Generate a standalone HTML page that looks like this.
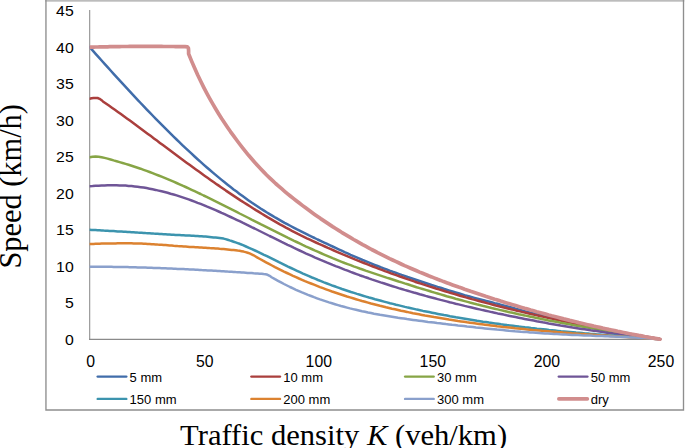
<!DOCTYPE html>
<html><head><meta charset="utf-8"><title>Speed vs traffic density</title>
<style>
html,body{margin:0;padding:0;background:#fff;}
body{width:685px;height:448px;overflow:hidden;}
svg{display:block;}
.t{font-family:"Liberation Sans",sans-serif;font-size:16.3px;fill:#000;}
.l{font-family:"Liberation Sans",sans-serif;font-size:13px;fill:#000;}
.a{font-family:"Liberation Serif",serif;fill:#000;}
</style></head><body>
<svg width="685" height="448" viewBox="0 0 685 448">
<rect x="0" y="0" width="685" height="448" fill="#fff"/>
<rect x="45.2" y="0" width="639.1" height="1.7" fill="#bcbcbc"/>
<path d="M45.95,0 V409.95 H683.5 V0" fill="none" stroke="#8e8e8e" stroke-width="1.35"/>
<line x1="89.7" y1="10" x2="89.7" y2="339.9" stroke="#8c8c8c" stroke-width="1.05"/>
<line x1="89" y1="339.35" x2="660" y2="339.35" stroke="#8a8a8a" stroke-width="1.1"/>
<clipPath id="cp"><rect x="89.6" y="0" width="575" height="345"/></clipPath>
<g clip-path="url(#cp)">
<polyline points="89.6,47.0 92.6,50.4 95.6,53.8 98.6,57.1 101.6,60.5 104.6,63.8 107.6,67.2 110.6,70.5 113.6,73.8 116.6,77.1 119.6,80.4 122.6,83.7 125.6,86.9 128.6,90.2 131.6,93.4 134.6,96.6 137.6,99.8 140.6,103.0 143.6,106.1 146.6,109.3 149.6,112.4 152.6,115.5 155.6,118.6 158.6,121.6 161.6,124.7 164.6,127.7 167.6,130.7 170.6,133.7 173.6,136.6 176.6,139.5 179.6,142.4 182.6,145.3 185.6,148.1 188.6,150.9 191.6,153.7 194.6,156.5 197.6,159.2 200.6,161.9 203.6,164.6 206.6,167.2 209.6,169.8 212.6,172.4 215.6,174.9 218.6,177.4 221.6,179.9 224.6,182.3 227.6,184.7 230.6,187.0 233.6,189.4 236.6,191.6 239.6,193.9 242.6,196.1 245.6,198.3 248.6,200.4 251.6,202.5 254.6,204.5 257.6,206.5 260.6,208.5 263.6,210.4 266.6,212.3 269.6,214.1 272.6,215.9 275.6,217.7 278.6,219.4 281.6,221.1 284.6,222.8 287.6,224.4 290.6,226.0 293.6,227.6 296.6,229.2 299.6,230.7 302.6,232.2 305.6,233.7 308.6,235.2 311.6,236.6 314.6,238.0 317.6,239.5 320.6,240.9 323.6,242.3 326.6,243.7 329.6,245.1 332.6,246.5 335.6,247.9 338.6,249.3 341.6,250.7 344.6,252.1 347.6,253.4 350.6,254.8 353.6,256.1 356.6,257.4 359.6,258.7 362.6,260.0 365.6,261.2 368.6,262.4 371.6,263.6 374.6,264.8 377.6,266.0 380.6,267.2 383.6,268.3 386.6,269.4 389.6,270.6 392.6,271.7 395.6,272.7 398.6,273.8 401.6,274.9 404.6,275.9 407.6,277.0 410.6,278.0 413.6,279.0 416.6,280.0 419.6,281.0 422.6,282.0 425.6,283.0 428.6,284.0 431.6,285.0 434.6,285.9 437.6,286.9 440.6,287.8 443.6,288.8 446.6,289.7 449.6,290.6 452.6,291.5 455.6,292.4 458.6,293.3 461.6,294.2 464.6,295.1 467.6,295.9 470.6,296.8 473.6,297.6 476.6,298.4 479.6,299.2 482.6,300.0 485.6,300.8 488.6,301.5 491.6,302.3 494.6,303.1 497.6,303.8 500.6,304.6 503.6,305.4 506.6,306.2 509.6,307.0 512.6,307.8 515.6,308.6 518.6,309.4 521.6,310.3 524.6,311.1 527.6,311.9 530.6,312.7 533.6,313.4 536.6,314.2 539.6,315.0 542.6,315.7 545.6,316.5 548.6,317.2 551.6,317.9 554.6,318.6 557.6,319.3 560.6,320.0 563.6,320.7 566.6,321.4 569.6,322.1 572.6,322.8 575.6,323.4 578.6,324.1 581.6,324.7 584.6,325.3 587.6,326.0 590.6,326.6 593.6,327.2 596.6,327.8 599.6,328.4 602.6,329.0 605.6,329.6 608.6,330.1 611.6,330.7 614.6,331.3 617.6,331.8 620.6,332.4 623.6,332.9 626.6,333.5 629.6,334.0 632.6,334.5 635.6,335.1 638.6,335.6 641.6,336.1 644.6,336.6 647.6,337.1 650.6,337.6 653.6,338.1 656.6,338.6 659.6,339.1 660.0,339.2" stroke="#416DAA" stroke-width="2.5" fill="none" stroke-linecap="round" stroke-linejoin="round"/>
<polyline points="89.6,98.8 91.6,98.3 93.6,98.0 95.6,97.9 97.6,98.0 99.6,98.8 101.6,100.2 102.9,101.4 105.9,103.5 108.9,105.6 111.9,107.7 114.9,109.8 117.9,111.9 120.9,114.1 123.9,116.3 126.9,118.4 129.9,120.6 132.9,122.8 135.9,125.0 138.9,127.2 141.9,129.5 144.9,131.7 147.9,133.9 150.9,136.1 153.9,138.4 156.9,140.6 159.9,142.9 162.9,145.1 165.9,147.3 168.9,149.6 171.9,151.8 174.9,154.0 177.9,156.3 180.9,158.5 183.9,160.7 186.9,162.9 189.9,165.1 192.9,167.3 195.9,169.4 198.9,171.6 201.9,173.8 204.9,175.9 207.9,178.0 210.9,180.2 213.9,182.3 216.9,184.4 219.9,186.4 222.9,188.5 225.9,190.6 228.9,192.6 231.9,194.6 234.9,196.6 237.9,198.6 240.9,200.6 243.9,202.5 246.9,204.4 249.9,206.3 252.9,208.2 255.9,210.1 258.9,211.9 261.9,213.8 264.9,215.6 267.9,217.4 270.9,219.1 273.9,220.9 276.9,222.6 279.9,224.3 282.9,225.9 285.9,227.6 288.9,229.2 291.9,230.8 294.9,232.3 297.9,233.9 300.9,235.4 303.9,236.8 306.9,238.3 309.9,239.7 312.9,241.1 315.9,242.5 318.9,243.9 321.9,245.2 324.9,246.5 327.9,247.9 330.9,249.2 333.9,250.5 336.9,251.8 339.9,253.1 342.9,254.4 345.9,255.6 348.9,256.9 351.9,258.1 354.9,259.4 357.9,260.6 360.9,261.8 363.9,263.0 366.9,264.2 369.9,265.4 372.9,266.5 375.9,267.7 378.9,268.8 381.9,269.9 384.9,271.1 387.9,272.2 390.9,273.3 393.9,274.4 396.9,275.4 399.9,276.5 402.9,277.5 405.9,278.6 408.9,279.6 411.9,280.6 414.9,281.7 417.9,282.7 420.9,283.6 423.9,284.6 426.9,285.6 429.9,286.6 432.9,287.5 435.9,288.5 438.9,289.4 441.9,290.3 444.9,291.2 447.9,292.1 450.9,293.0 453.9,293.9 456.9,294.8 459.9,295.7 462.9,296.5 465.9,297.4 468.9,298.2 471.9,299.1 474.9,299.9 477.9,300.7 480.9,301.5 483.9,302.3 486.9,303.1 489.9,303.9 492.9,304.7 495.9,305.5 498.9,306.2 501.9,307.0 504.9,307.7 507.9,308.5 510.9,309.2 513.9,309.9 516.9,310.7 519.9,311.4 522.9,312.1 525.9,312.8 528.9,313.5 531.9,314.2 534.9,314.9 537.9,315.6 540.9,316.2 543.9,316.9 546.9,317.6 549.9,318.2 552.9,318.9 555.9,319.5 558.9,320.1 561.9,320.8 564.9,321.4 567.9,322.0 570.9,322.6 573.9,323.3 576.9,323.9 579.9,324.5 582.9,325.1 585.9,325.7 588.9,326.3 591.9,326.8 594.9,327.4 597.9,328.0 600.9,328.6 603.9,329.1 606.9,329.7 609.9,330.3 612.9,330.8 615.9,331.4 618.9,331.9 621.9,332.5 624.9,333.0 627.9,333.6 630.9,334.1 633.9,334.6 636.9,335.2 639.9,335.7 642.9,336.2 645.9,336.8 648.9,337.3 651.9,337.8 654.9,338.3 657.9,338.8 660.0,339.2" stroke="#AA3F3D" stroke-width="2.5" fill="none" stroke-linecap="round" stroke-linejoin="round"/>
<polyline points="89.6,157.3 92.6,156.8 95.6,156.6 98.6,156.8 101.6,157.2 104.6,157.9 107.6,158.6 110.6,159.5 113.6,160.4 116.6,161.2 119.6,162.1 122.6,163.0 125.6,163.9 128.6,164.8 131.6,165.7 134.6,166.7 137.6,167.7 140.6,168.7 143.6,169.8 146.6,170.9 149.6,172.0 152.6,173.1 155.6,174.3 158.6,175.5 161.6,176.7 164.6,177.9 167.6,179.1 170.6,180.4 173.6,181.7 176.6,183.0 179.6,184.3 182.6,185.7 185.6,187.0 188.6,188.4 191.6,189.8 194.6,191.2 197.6,192.6 200.6,194.0 203.6,195.5 206.6,196.9 209.6,198.4 212.6,199.9 215.6,201.4 218.6,202.9 221.6,204.4 224.6,205.9 227.6,207.4 230.6,208.9 233.6,210.4 236.6,211.9 239.6,213.5 242.6,215.0 245.6,216.5 248.6,218.0 251.6,219.6 254.6,221.1 257.6,222.6 260.6,224.2 263.6,225.7 266.6,227.2 269.6,228.7 272.6,230.2 275.6,231.7 278.6,233.2 281.6,234.7 284.6,236.2 287.6,237.7 290.6,239.1 293.6,240.6 296.6,242.0 299.6,243.4 302.6,244.9 305.6,246.3 308.6,247.6 311.6,249.0 314.6,250.4 317.6,251.7 320.6,253.0 323.6,254.3 326.6,255.6 329.6,256.9 332.6,258.2 335.6,259.4 338.6,260.6 341.6,261.8 344.6,263.0 347.6,264.1 350.6,265.2 353.6,266.4 356.6,267.4 359.6,268.5 362.6,269.5 365.6,270.6 368.6,271.6 371.6,272.6 374.6,273.6 377.6,274.6 380.6,275.6 383.6,276.6 386.6,277.6 389.6,278.5 392.6,279.5 395.6,280.5 398.6,281.5 401.6,282.4 404.6,283.4 407.6,284.3 410.6,285.3 413.6,286.2 416.6,287.2 419.6,288.1 422.6,289.0 425.6,289.9 428.6,290.8 431.6,291.8 434.6,292.6 437.6,293.5 440.6,294.4 443.6,295.3 446.6,296.2 449.6,297.0 452.6,297.8 455.6,298.7 458.6,299.5 461.6,300.3 464.6,301.1 467.6,301.9 470.6,302.7 473.6,303.5 476.6,304.3 479.6,305.0 482.6,305.8 485.6,306.5 488.6,307.2 491.6,308.0 494.6,308.7 497.6,309.4 500.6,310.1 503.6,310.8 506.6,311.5 509.6,312.2 512.6,312.8 515.6,313.5 518.6,314.2 521.6,314.8 524.6,315.4 527.6,316.1 530.6,316.7 533.6,317.3 536.6,318.0 539.6,318.6 542.6,319.2 545.6,319.8 548.6,320.4 551.6,320.9 554.6,321.5 557.6,322.1 560.6,322.7 563.6,323.2 566.6,323.8 569.6,324.3 572.6,324.9 575.6,325.4 578.6,326.0 581.6,326.5 584.6,327.0 587.6,327.6 590.6,328.1 593.6,328.6 596.6,329.1 599.6,329.6 602.6,330.1 605.6,330.6 608.6,331.1 611.6,331.6 614.6,332.1 617.6,332.6 620.6,333.1 623.6,333.6 626.6,334.0 629.6,334.5 632.6,335.0 635.6,335.5 638.6,335.9 641.6,336.4 644.6,336.9 647.6,337.3 650.6,337.8 653.6,338.2 656.6,338.7 659.6,339.1 660.0,339.2" stroke="#87A546" stroke-width="2.5" fill="none" stroke-linecap="round" stroke-linejoin="round"/>
<polyline points="89.6,186.3 92.6,186.1 95.6,185.8 98.6,185.7 101.6,185.5 104.6,185.4 107.6,185.3 110.6,185.3 113.6,185.3 116.6,185.3 119.6,185.4 122.6,185.5 125.6,185.6 128.6,185.9 131.6,186.1 134.6,186.4 137.6,186.8 140.6,187.2 143.6,187.6 146.6,188.1 149.6,188.7 152.6,189.3 155.6,189.9 158.6,190.6 161.6,191.3 164.6,192.0 167.6,192.8 170.6,193.7 173.6,194.5 176.6,195.4 179.6,196.4 182.6,197.4 185.6,198.4 188.6,199.4 191.6,200.5 194.6,201.6 197.6,202.8 200.6,203.9 203.6,205.1 206.6,206.4 209.6,207.6 212.6,208.9 215.6,210.2 218.6,211.5 221.6,212.9 224.6,214.2 227.6,215.6 230.6,217.0 233.6,218.4 236.6,219.8 239.6,221.2 242.6,222.7 245.6,224.1 248.6,225.6 251.6,227.1 254.6,228.5 257.6,230.0 260.6,231.5 263.6,233.0 266.6,234.5 269.6,236.0 272.6,237.4 275.6,238.9 278.6,240.4 281.6,241.9 284.6,243.3 287.6,244.8 290.6,246.2 293.6,247.7 296.6,249.1 299.6,250.5 302.6,251.9 305.6,253.3 308.6,254.6 311.6,255.9 314.6,257.3 317.6,258.6 320.6,259.9 323.6,261.1 326.6,262.4 329.6,263.6 332.6,264.9 335.6,266.1 338.6,267.2 341.6,268.4 344.6,269.6 347.6,270.7 350.6,271.9 353.6,273.0 356.6,274.1 359.6,275.2 362.6,276.2 365.6,277.3 368.6,278.3 371.6,279.4 374.6,280.4 377.6,281.4 380.6,282.4 383.6,283.3 386.6,284.3 389.6,285.3 392.6,286.2 395.6,287.1 398.6,288.1 401.6,289.0 404.6,289.9 407.6,290.7 410.6,291.6 413.6,292.5 416.6,293.3 419.6,294.2 422.6,295.0 425.6,295.9 428.6,296.7 431.6,297.5 434.6,298.3 437.6,299.1 440.6,299.9 443.6,300.6 446.6,301.4 449.6,302.2 452.6,302.9 455.6,303.7 458.6,304.4 461.6,305.1 464.6,305.9 467.6,306.6 470.6,307.3 473.6,308.0 476.6,308.7 479.6,309.4 482.6,310.1 485.6,310.7 488.6,311.4 491.6,312.1 494.6,312.7 497.6,313.4 500.6,314.0 503.6,314.6 506.6,315.3 509.6,315.9 512.6,316.5 515.6,317.1 518.6,317.7 521.6,318.3 524.6,318.9 527.6,319.5 530.6,320.1 533.6,320.6 536.6,321.2 539.6,321.7 542.6,322.3 545.6,322.8 548.6,323.4 551.6,323.9 554.6,324.4 557.6,324.9 560.6,325.5 563.6,326.0 566.6,326.5 569.6,327.0 572.6,327.5 575.6,327.9 578.6,328.4 581.6,328.9 584.6,329.3 587.6,329.8 590.6,330.3 593.6,330.7 596.6,331.1 599.6,331.6 602.6,332.0 605.6,332.4 608.6,332.9 611.6,333.3 614.6,333.7 617.6,334.1 620.6,334.5 623.6,334.9 626.6,335.3 629.6,335.6 632.6,336.0 635.6,336.4 638.6,336.7 641.6,337.1 644.6,337.5 647.6,337.8 650.6,338.2 653.6,338.5 656.6,338.8 659.6,339.2 660.0,339.2" stroke="#6F5597" stroke-width="2.5" fill="none" stroke-linecap="round" stroke-linejoin="round"/>
<polyline points="89.6,229.8 91.6,229.9 93.6,230.0 95.6,230.1 97.6,230.2 99.6,230.3 101.6,230.4 103.6,230.6 105.6,230.7 107.6,230.8 109.6,230.9 111.6,231.0 113.6,231.1 115.6,231.2 117.6,231.4 119.6,231.5 121.6,231.6 123.6,231.7 125.6,231.8 127.6,232.0 129.6,232.1 131.6,232.2 133.6,232.3 135.6,232.4 137.6,232.6 139.6,232.7 141.6,232.8 143.6,232.9 145.6,233.1 147.6,233.2 149.6,233.3 151.6,233.4 153.6,233.6 155.6,233.7 157.6,233.8 159.6,234.0 161.6,234.1 163.6,234.2 165.6,234.3 167.6,234.4 169.6,234.5 171.6,234.7 173.6,234.8 175.6,234.9 177.6,235.0 179.6,235.1 181.6,235.2 183.6,235.3 185.6,235.4 187.6,235.5 189.6,235.6 191.6,235.7 193.6,235.8 195.6,235.9 197.6,236.0 199.6,236.2 201.6,236.3 203.6,236.5 205.6,236.6 207.6,236.8 209.6,237.0 211.6,237.2 213.6,237.4 215.6,237.6 217.6,237.8 219.6,238.0 221.6,238.3 223.6,238.6 225.6,239.1 227.6,239.7 229.6,240.4 231.6,241.0 233.6,241.7 235.6,242.4 237.6,243.1 239.6,243.8 240.0,244.0 243.0,245.2 246.0,246.5 249.0,247.8 252.0,249.1 255.0,250.5 258.0,251.9 261.0,253.3 264.0,254.8 267.0,256.2 270.0,257.7 273.0,259.2 276.0,260.7 279.0,262.2 282.0,263.6 285.0,265.1 288.0,266.6 291.0,268.0 294.0,269.4 297.0,270.8 300.0,272.2 303.0,273.6 306.0,274.9 309.0,276.2 312.0,277.5 315.0,278.7 318.0,280.0 321.0,281.2 324.0,282.4 327.0,283.5 330.0,284.6 333.0,285.8 336.0,286.8 339.0,287.9 342.0,289.0 345.0,290.0 348.0,291.0 351.0,292.0 354.0,292.9 357.0,293.9 360.0,294.8 363.0,295.7 366.0,296.6 369.0,297.5 372.0,298.3 375.0,299.2 378.0,300.0 381.0,300.8 384.0,301.6 387.0,302.4 390.0,303.2 393.0,303.9 396.0,304.7 399.0,305.4 402.0,306.1 405.0,306.9 408.0,307.6 411.0,308.2 414.0,308.9 417.0,309.6 420.0,310.2 423.0,310.9 426.0,311.5 429.0,312.1 432.0,312.7 435.0,313.3 438.0,313.9 441.0,314.5 444.0,315.1 447.0,315.6 450.0,316.2 453.0,316.7 456.0,317.3 459.0,317.8 462.0,318.3 465.0,318.8 468.0,319.3 471.0,319.8 474.0,320.3 477.0,320.8 480.0,321.2 483.0,321.7 486.0,322.1 489.0,322.6 492.0,323.0 495.0,323.4 498.0,323.8 501.0,324.3 504.0,324.7 507.0,325.1 510.0,325.4 513.0,325.8 516.0,326.2 519.0,326.6 522.0,326.9 525.0,327.3 528.0,327.6 531.0,328.0 534.0,328.3 537.0,328.7 540.0,329.0 543.0,329.3 546.0,329.6 549.0,330.0 552.0,330.3 555.0,330.6 558.0,330.9 561.0,331.2 564.0,331.4 567.0,331.7 570.0,332.0 573.0,332.3 576.0,332.6 579.0,332.8 582.0,333.1 585.0,333.4 588.0,333.6 591.0,333.9 594.0,334.1 597.0,334.4 600.0,334.6 603.0,334.9 606.0,335.1 609.0,335.4 612.0,335.6 615.0,335.8 618.0,336.1 621.0,336.3 624.0,336.5 627.0,336.8 630.0,337.0 633.0,337.2 636.0,337.4 639.0,337.7 642.0,337.9 645.0,338.1 648.0,338.3 651.0,338.5 654.0,338.8 657.0,339.0 660.0,339.2" stroke="#3C94AE" stroke-width="2.5" fill="none" stroke-linecap="round" stroke-linejoin="round"/>
<polyline points="89.6,244.1 91.6,244.0 93.6,243.9 95.6,243.8 97.6,243.7 99.6,243.7 101.6,243.6 103.6,243.6 105.6,243.5 107.6,243.5 109.6,243.4 111.6,243.4 113.6,243.4 115.6,243.4 117.6,243.3 119.6,243.3 121.6,243.3 123.6,243.3 125.6,243.3 127.6,243.3 129.6,243.3 131.6,243.3 133.6,243.4 135.6,243.4 137.6,243.5 139.6,243.5 141.6,243.6 143.6,243.7 145.6,243.8 147.6,243.9 149.6,244.0 151.6,244.2 153.6,244.3 155.6,244.4 157.6,244.6 159.6,244.7 161.6,244.8 163.6,245.0 165.6,245.1 167.6,245.3 169.6,245.5 171.6,245.6 173.6,245.8 175.6,245.9 177.6,246.1 179.6,246.2 181.6,246.3 183.6,246.5 185.6,246.6 187.6,246.7 189.6,246.9 191.6,247.0 193.6,247.1 195.6,247.2 197.6,247.3 199.6,247.5 201.6,247.6 203.6,247.7 205.6,247.8 207.6,247.9 209.6,248.1 211.6,248.2 213.6,248.3 215.6,248.5 217.6,248.6 219.6,248.8 221.6,248.9 223.6,249.1 225.6,249.3 227.6,249.5 229.6,249.7 231.6,249.9 233.6,250.1 235.6,250.3 237.6,250.6 239.6,250.8 241.6,251.2 243.6,251.6 245.6,252.1 247.6,252.7 249.6,253.4 251.6,254.3 253.6,255.3 255.6,256.5 257.0,257.3 260.0,259.0 263.0,260.7 266.0,262.3 269.0,263.9 272.0,265.5 275.0,267.1 278.0,268.6 281.0,270.1 284.0,271.6 287.0,273.0 290.0,274.4 293.0,275.8 296.0,277.1 299.0,278.5 302.0,279.8 305.0,281.1 308.0,282.3 311.0,283.5 314.0,284.7 317.0,285.9 320.0,287.1 323.0,288.2 326.0,289.3 329.0,290.4 332.0,291.5 335.0,292.5 338.0,293.5 341.0,294.5 344.0,295.5 347.0,296.5 350.0,297.4 353.0,298.3 356.0,299.2 359.0,300.1 362.0,301.0 365.0,301.8 368.0,302.6 371.0,303.5 374.0,304.2 377.0,305.0 380.0,305.8 383.0,306.5 386.0,307.3 389.0,308.0 392.0,308.7 395.0,309.3 398.0,310.0 401.0,310.7 404.0,311.3 407.0,311.9 410.0,312.6 413.0,313.2 416.0,313.7 419.0,314.3 422.0,314.9 425.0,315.5 428.0,316.0 431.0,316.5 434.0,317.1 437.0,317.6 440.0,318.1 443.0,318.6 446.0,319.1 449.0,319.6 452.0,320.0 455.0,320.5 458.0,321.0 461.0,321.4 464.0,321.8 467.0,322.3 470.0,322.7 473.0,323.1 476.0,323.5 479.0,323.9 482.0,324.3 485.0,324.7 488.0,325.1 491.0,325.4 494.0,325.8 497.0,326.2 500.0,326.5 503.0,326.9 506.0,327.2 509.0,327.5 512.0,327.8 515.0,328.2 518.0,328.5 521.0,328.8 524.0,329.1 527.0,329.4 530.0,329.7 533.0,330.0 536.0,330.2 539.0,330.5 542.0,330.8 545.0,331.0 548.0,331.3 551.0,331.6 554.0,331.8 557.0,332.1 560.0,332.3 563.0,332.6 566.0,332.8 569.0,333.0 572.0,333.3 575.0,333.5 578.0,333.7 581.0,333.9 584.0,334.1 587.0,334.4 590.0,334.6 593.0,334.8 596.0,335.0 599.0,335.2 602.0,335.4 605.0,335.6 608.0,335.8 611.0,336.0 614.0,336.2 617.0,336.4 620.0,336.6 623.0,336.8 626.0,337.0 629.0,337.2 632.0,337.4 635.0,337.6 638.0,337.8 641.0,338.0 644.0,338.2 647.0,338.4 650.0,338.5 653.0,338.7 656.0,338.9 659.0,339.1 660.0,339.2" stroke="#DC8230" stroke-width="2.5" fill="none" stroke-linecap="round" stroke-linejoin="round"/>
<polyline points="89.6,266.7 91.6,266.7 93.6,266.7 95.6,266.7 97.6,266.7 99.6,266.7 101.6,266.7 103.6,266.8 105.6,266.8 107.6,266.8 109.6,266.8 111.6,266.8 113.6,266.9 115.6,266.9 117.6,266.9 119.6,267.0 121.6,267.0 123.6,267.0 125.6,267.1 127.6,267.1 129.6,267.2 131.6,267.2 133.6,267.3 135.6,267.3 137.6,267.4 139.6,267.4 141.6,267.5 143.6,267.6 145.6,267.6 147.6,267.7 149.6,267.7 151.6,267.8 153.6,267.9 155.6,268.0 157.6,268.0 159.6,268.1 161.6,268.2 163.6,268.3 165.6,268.3 167.6,268.4 169.6,268.5 171.6,268.6 173.6,268.7 175.6,268.8 177.6,268.9 179.6,268.9 181.6,269.0 183.6,269.1 185.6,269.2 187.6,269.3 189.6,269.4 191.6,269.5 193.6,269.6 195.6,269.7 197.6,269.8 199.6,269.9 201.6,270.1 203.6,270.2 205.6,270.3 207.6,270.4 209.6,270.5 211.6,270.6 213.6,270.7 215.6,270.8 217.6,271.0 219.6,271.1 221.6,271.2 223.6,271.3 225.6,271.4 227.6,271.6 229.6,271.7 231.6,271.8 233.6,271.9 235.6,272.1 237.6,272.2 239.6,272.3 241.6,272.5 243.6,272.6 245.6,272.7 247.6,272.9 249.6,273.0 251.6,273.1 253.6,273.3 255.6,273.4 257.6,273.5 259.6,273.7 261.6,273.8 263.6,274.1 265.6,274.3 267.6,274.8 269.6,275.8 271.6,277.2 272.0,277.5 275.0,279.2 278.0,280.8 281.0,282.4 284.0,284.0 287.0,285.5 290.0,287.0 293.0,288.4 296.0,289.8 299.0,291.1 302.0,292.4 305.0,293.6 308.0,294.9 311.0,296.0 314.0,297.2 317.0,298.3 320.0,299.4 323.0,300.4 326.0,301.4 329.0,302.4 332.0,303.3 335.0,304.2 338.0,305.1 341.0,306.0 344.0,306.8 347.0,307.6 350.0,308.4 353.0,309.1 356.0,309.8 359.0,310.5 362.0,311.2 365.0,311.8 368.0,312.5 371.0,313.1 374.0,313.7 377.0,314.2 380.0,314.8 383.0,315.3 386.0,315.8 389.0,316.3 392.0,316.8 395.0,317.3 398.0,317.8 401.0,318.2 404.0,318.6 407.0,319.1 410.0,319.5 413.0,319.9 416.0,320.3 419.0,320.7 422.0,321.1 425.0,321.5 428.0,321.9 431.0,322.2 434.0,322.6 437.0,323.0 440.0,323.3 443.0,323.7 446.0,324.1 449.0,324.4 452.0,324.8 455.0,325.1 458.0,325.5 461.0,325.8 464.0,326.1 467.0,326.5 470.0,326.8 473.0,327.1 476.0,327.5 479.0,327.8 482.0,328.1 485.0,328.4 488.0,328.7 491.0,329.0 494.0,329.3 497.0,329.6 500.0,329.8 503.0,330.1 506.0,330.4 509.0,330.7 512.0,330.9 515.0,331.2 518.0,331.4 521.0,331.7 524.0,331.9 527.0,332.1 530.0,332.4 533.0,332.6 536.0,332.8 539.0,333.0 542.0,333.2 545.0,333.4 548.0,333.6 551.0,333.8 554.0,334.0 557.0,334.1 560.0,334.3 563.0,334.4 566.0,334.6 569.0,334.7 572.0,334.9 575.0,335.0 578.0,335.1 581.0,335.3 584.0,335.4 587.0,335.5 590.0,335.6 593.0,335.8 596.0,335.9 599.0,336.0 602.0,336.1 605.0,336.2 608.0,336.3 611.0,336.5 614.0,336.6 617.0,336.7 620.0,336.8 623.0,337.0 626.0,337.1 629.0,337.3 632.0,337.4 635.0,337.6 638.0,337.7 641.0,337.9 644.0,338.1 647.0,338.3 650.0,338.5 653.0,338.7 656.0,338.9 659.0,339.1 660.0,339.2" stroke="#8AA0CC" stroke-width="2.5" fill="none" stroke-linecap="round" stroke-linejoin="round"/>
<polyline points="89.6,47.2 91.6,47.1 93.6,47.1 95.6,47.0 97.6,47.0 99.6,46.9 101.6,46.9 103.6,46.8 105.6,46.8 107.6,46.8 109.6,46.7 111.6,46.7 113.6,46.6 115.6,46.6 117.6,46.6 119.6,46.6 121.6,46.5 123.6,46.5 125.6,46.5 127.6,46.5 129.6,46.4 131.6,46.4 133.6,46.4 135.6,46.4 137.6,46.4 139.6,46.4 141.6,46.4 143.6,46.4 145.6,46.4 147.6,46.4 149.6,46.4 151.6,46.4 153.6,46.4 155.6,46.4 157.6,46.4 159.6,46.4 161.6,46.4 163.6,46.5 165.6,46.5 167.6,46.5 169.6,46.5 171.6,46.5 173.6,46.5 175.6,46.6 177.6,46.6 179.6,46.6 181.6,46.6 183.6,46.7 185.0,46.7 187.4,46.9 188.4,48.2 188.6,50.5 188.6,53.8 191.6,61.1 194.6,68.0 197.6,74.7 200.6,81.0 203.6,87.1 206.6,92.9 209.6,98.4 212.6,103.7 215.6,108.8 218.6,113.7 221.6,118.5 224.6,123.0 227.6,127.5 230.6,131.8 233.6,135.9 236.6,140.0 239.6,144.0 242.6,147.9 245.6,151.6 248.6,155.3 251.6,158.8 254.6,162.3 257.6,165.6 260.6,168.8 263.6,171.9 266.6,175.0 269.6,177.9 272.6,180.7 275.6,183.5 278.6,186.1 281.6,188.7 284.6,191.3 287.6,193.8 290.6,196.2 293.6,198.6 296.6,201.0 299.6,203.3 302.6,205.6 305.6,207.8 308.6,210.0 311.6,212.2 314.6,214.4 317.6,216.5 320.6,218.6 323.6,220.6 326.6,222.6 329.6,224.6 332.6,226.6 335.6,228.5 338.6,230.4 341.6,232.3 344.6,234.1 347.6,235.9 350.6,237.7 353.6,239.5 356.6,241.2 359.6,242.9 362.6,244.6 365.6,246.2 368.6,247.8 371.6,249.5 374.6,251.0 377.6,252.6 380.6,254.1 383.6,255.6 386.6,257.1 389.6,258.6 392.6,260.0 395.6,261.4 398.6,262.8 401.6,264.2 404.6,265.6 407.6,266.9 410.6,268.2 413.6,269.5 416.6,270.8 419.6,272.1 422.6,273.3 425.6,274.5 428.6,275.8 431.6,276.9 434.6,278.1 437.6,279.3 440.6,280.4 443.6,281.6 446.6,282.7 449.6,283.8 452.6,284.9 455.6,286.0 458.6,287.1 461.6,288.1 464.6,289.2 467.6,290.2 470.6,291.3 473.6,292.3 476.6,293.3 479.6,294.3 482.6,295.3 485.6,296.3 488.6,297.2 491.6,298.2 494.6,299.2 497.6,300.1 500.6,301.1 503.6,302.0 506.6,302.9 509.6,303.8 512.6,304.7 515.6,305.6 518.6,306.5 521.6,307.4 524.6,308.3 527.6,309.1 530.6,310.0 533.6,310.8 536.6,311.7 539.6,312.5 542.6,313.3 545.6,314.1 548.6,315.0 551.6,315.8 554.6,316.5 557.6,317.3 560.6,318.1 563.6,318.9 566.6,319.6 569.6,320.4 572.6,321.1 575.6,321.8 578.6,322.6 581.6,323.3 584.6,324.0 587.6,324.7 590.6,325.4 593.6,326.1 596.6,326.7 599.6,327.4 602.6,328.1 605.6,328.7 608.6,329.4 611.6,330.0 614.6,330.6 617.6,331.3 620.6,331.9 623.6,332.5 626.6,333.1 629.6,333.7 632.6,334.2 635.6,334.8 638.6,335.4 641.6,335.9 644.6,336.5 647.6,337.0 650.6,337.6 653.6,338.1 656.6,338.6 659.6,339.1 660.0,339.2" stroke="#D18D8D" stroke-width="3.7" fill="none" stroke-linecap="round" stroke-linejoin="round"/>
</g>
<g class="t"><text font-size="15.2px" transform="translate(73.7,344.6) scale(1.04,1)" text-anchor="end">0</text><text font-size="15.2px" transform="translate(73.7,308.1) scale(1.04,1)" text-anchor="end">5</text><text font-size="15.2px" transform="translate(73.7,271.6) scale(1.04,1)" text-anchor="end">10</text><text font-size="15.2px" transform="translate(73.7,235.1) scale(1.04,1)" text-anchor="end">15</text><text font-size="15.2px" transform="translate(73.7,198.6) scale(1.04,1)" text-anchor="end">20</text><text font-size="15.2px" transform="translate(73.7,162.1) scale(1.04,1)" text-anchor="end">25</text><text font-size="15.2px" transform="translate(73.7,125.6) scale(1.04,1)" text-anchor="end">30</text><text font-size="15.2px" transform="translate(73.7,89.1) scale(1.04,1)" text-anchor="end">35</text><text font-size="15.2px" transform="translate(73.7,52.6) scale(1.04,1)" text-anchor="end">40</text><text font-size="15.2px" transform="translate(73.7,16.1) scale(1.04,1)" text-anchor="end">45</text><text transform="translate(90.6,366.9) scale(0.97,1)" text-anchor="middle">0</text><text transform="translate(204.7,366.9) scale(0.97,1)" text-anchor="middle">50</text><text transform="translate(318.8,366.9) scale(0.97,1)" text-anchor="middle">100</text><text transform="translate(432.8,366.9) scale(0.97,1)" text-anchor="middle">150</text><text transform="translate(546.9,366.9) scale(0.97,1)" text-anchor="middle">200</text><text transform="translate(661.0,366.9) scale(0.97,1)" text-anchor="middle">250</text></g>
<g class="l"><line x1="97.7" y1="376.6" x2="126.3" y2="376.6" stroke="#416DAA" stroke-width="2.4" stroke-linecap="round"/><text x="129.6" y="381.5">5 mm</text><line x1="251.4" y1="376.6" x2="280.0" y2="376.6" stroke="#AA3F3D" stroke-width="2.4" stroke-linecap="round"/><text x="283.3" y="381.5">10 mm</text><line x1="405.1" y1="376.6" x2="433.7" y2="376.6" stroke="#87A546" stroke-width="2.4" stroke-linecap="round"/><text x="437.0" y="381.5">30 mm</text><line x1="558.8" y1="376.6" x2="587.4" y2="376.6" stroke="#6F5597" stroke-width="2.4" stroke-linecap="round"/><text x="590.7" y="381.5">50 mm</text><line x1="97.7" y1="398.9" x2="126.3" y2="398.9" stroke="#3C94AE" stroke-width="2.4" stroke-linecap="round"/><text x="129.6" y="403.8">150 mm</text><line x1="251.4" y1="398.9" x2="280.0" y2="398.9" stroke="#DC8230" stroke-width="2.4" stroke-linecap="round"/><text x="283.3" y="403.8">200 mm</text><line x1="405.1" y1="398.9" x2="433.7" y2="398.9" stroke="#8AA0CC" stroke-width="2.4" stroke-linecap="round"/><text x="437.0" y="403.8">300 mm</text><line x1="558.8" y1="398.9" x2="587.4" y2="398.9" stroke="#D18D8D" stroke-width="3.6" stroke-linecap="round"/><text x="590.7" y="403.8">dry</text></g>
<text class="a" x="180.1" y="445.3" font-size="29.9px" textLength="327" lengthAdjust="spacingAndGlyphs">Traffic density <tspan font-style="italic">K</tspan> (veh/km)</text>
<text class="a" transform="translate(21.3,268.6) rotate(-90)" font-size="30.5px" textLength="164.5" lengthAdjust="spacingAndGlyphs">Speed (km/h)</text>
</svg>
</body></html>
